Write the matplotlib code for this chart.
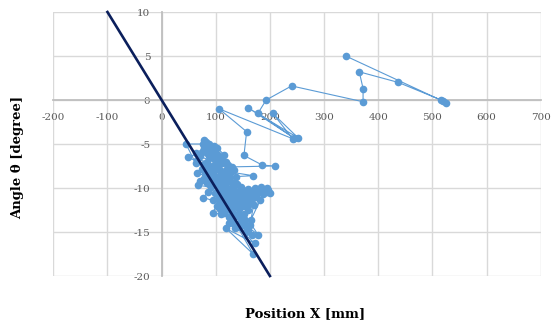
import matplotlib
matplotlib.use("Agg")
import matplotlib.pyplot as plt

plt.rcParams['axes.unicode_minus'] = False
plt.rcParams['font.family'] = ['DejaVu Serif']

# Reference line (fit)
line_x = [-100, 200]
line_y = [10, -20]

# Measured trajectory (position X [mm], angle [degree])
pos_x = [
    340, 515, 525, 520, 437, 365, 372, 372, 240, 193, 178, 244, 160, 252, 205, 242, 106, 157, 152, 186, 209, 130,
    118, 105, 95, 79, 85, 92, 78, 64, 88, 100, 112, 120, 108, 96, 84, 66, 63, 45, 76, 88, 82, 102, 115, 110, 98,
    90, 82, 48, 78, 90, 102, 82, 94, 104, 116, 128, 169, 138, 126, 114, 100, 88, 66, 80, 70, 84, 92, 68, 92, 110,
    124, 132, 140, 106, 120, 134, 146, 160, 172, 184, 196, 200, 188, 176, 162, 150, 138, 126, 112, 98, 86, 77, 94,
    108, 122, 136, 150, 166, 182, 165, 170, 156, 142, 128, 163, 115, 102, 94, 110, 124, 166, 138, 152, 178, 146,
    132, 172, 119, 169, 140, 155, 118, 130, 142, 154, 166, 178, 190, 195, 175, 158, 144, 130, 116, 104, 120, 134,
    148, 160,
    86, 94, 104, 70, 74, 86, 98, 110, 122, 134, 96, 108, 120, 78, 88, 100, 112, 128, 136, 148, 104, 116, 132, 144,
    156, 170, 182, 194, 112, 126, 138, 150, 162, 108, 116, 130, 142, 154, 124, 136, 150, 160, 90, 96, 84, 76,
]
angle = [
    5.0, 0.0, -0.3, -0.1, 2.0, 3.2, 1.3, -0.2, 1.6, 0.0, -1.5, -4.3, -0.9, -4.3, -1.5, -4.4, -1.0, -3.6, -6.3,
    -7.4, -7.5, -7.6,
    -7.0, -6.3, -5.6, -4.6, -5.3, -5.9, -5.5, -6.0, -6.4, -6.8, -7.2, -7.8, -8.0, -7.4, -7.0, -6.8, -7.2, -5.0,
    -5.0, -5.0, -4.8, -5.4, -6.2, -6.6, -6.0, -6.2, -5.8, -6.5, -7.3, -7.6, -7.7, -7.8, -8.3, -8.7, -8.5, -8.2,
    -8.6, -8.7, -9.2, -9.5, -9.1, -8.8, -8.3, -8.2, -9.2, -9.4, -9.2, -9.7, -9.9, -9.0, -8.8, -9.4, -9.5, -10.2,
    -10.0, -9.8, -9.9, -10.1, -10.0, -9.9, -10.2, -10.6, -10.7, -10.5, -10.8, -10.6, -10.9, -11.0, -10.8, -10.6,
    -10.4, -11.1, -11.4, -11.6, -11.8, -11.6, -11.3, -11.2, -11.4, -13.6, -11.9, -12.1, -12.4, -12.6, -14.2,
    -12.2, -12.0, -12.8, -13.0, -13.3, -15.3, -13.2, -12.9, -15.3, -13.8, -14.0, -16.3, -14.6, -17.5, -14.4,
    -15.0, -10.4, -10.4, -10.3, -10.3, -10.6, -10.2, -10.4, -10.0, -11.0, -11.6, -11.8, -11.5, -11.3, -11.2,
    -12.4, -12.9, -13.3, -12.5,
    -5.6, -6.6, -7.2, -6.4, -7.8, -8.0, -8.0, -8.2, -7.4, -8.0, -8.8, -9.4, -9.2, -9.0, -9.6, -9.6, -10.0, -10.0,
    -10.4, -10.2, -10.6, -10.8, -11.0, -11.0, -10.9, -10.4, -10.5, -10.5, -11.8, -12.0, -12.1, -12.0, -11.8,
    -12.4, -12.8, -13.2, -13.0, -13.6, -14.0, -14.6, -14.2, -14.8, -5.4, -5.2, -6.0, -5.8,
]

x_ticks = [-200, -100, 0, 100, 200, 300, 400, 500, 600, 700]
y_ticks = [-20, -15, -10, -5, 0, 5, 10]

W, H = 553, 327
fig = plt.figure(figsize=(W / 100, H / 100), dpi=100)
ax = fig.add_axes([53.3 / W, 1 - 276 / H, (540.7 - 53.3) / W, (276 - 12) / H])

ax.set_xlim(-200, 700)
ax.set_ylim(-20, 10)
ax.set_xticks(x_ticks)
ax.set_yticks(y_ticks)

ax.grid(True, color='#D9D9D9', linewidth=1.0, zorder=0)
ax.set_axisbelow(True)
for gl in ax.get_xgridlines() + ax.get_ygridlines():
    gl.set_clip_on(False)

for s in ['top', 'right']:
    ax.spines[s].set_visible(False)
ax.spines['left'].set_position(('data', 0))
ax.spines['bottom'].set_position(('data', 0))
for s in ['left', 'bottom']:
    ax.spines[s].set_color('#BFBFBF')
    ax.spines[s].set_linewidth(1.3)
    ax.spines[s].set_zorder(1)

ax.tick_params(axis='both', length=0, labelsize=7.5, labelcolor='#595959')
ax.tick_params(axis='x', pad=9)
ax.tick_params(axis='y', pad=8)

ax.plot(pos_x, angle, color='#5B9BD5', linewidth=0.8, marker='o', markersize=5.5,
        markeredgewidth=0, zorder=3, clip_on=False)
ax.plot(line_x, line_y, color='#0B1F5C', linewidth=1.9, zorder=4, clip_on=False)

fig.text(305.5 / W, 1 - 314 / H, 'Position X [mm]', ha='center', va='center',
         fontsize=9.5, fontweight='bold', color='black')
fig.text(17.5 / W, 1 - 157 / H, 'Angle θ [degree]', ha='center', va='center',
         rotation=90, fontsize=9.5, fontweight='bold', color='black')

fig.savefig('out.png', dpi=100, facecolor='white')
